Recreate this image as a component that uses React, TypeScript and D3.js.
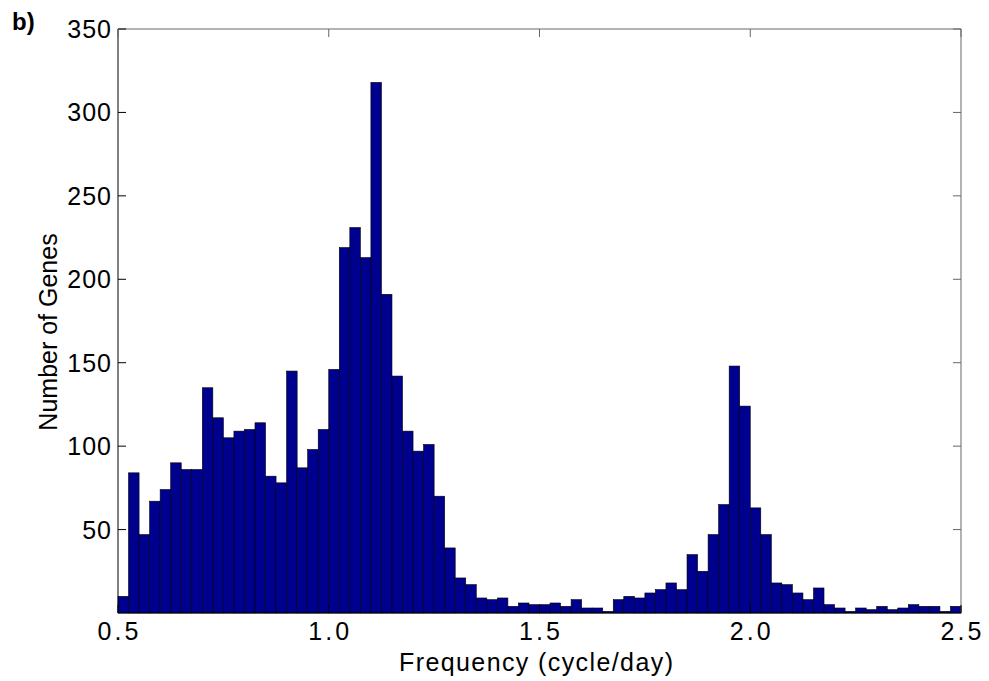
import React from "react";
import * as d3 from "d3";

// Histogram: bins of width 0.025 starting at 0.5 (cycle/day)
const binStart = 0.5;
const binWidth = 0.025;
const counts: number[] = [
  10, 84, 47, 67, 74, 90, 86, 86, 135, 117,
  105, 109, 110, 114, 82, 78, 145, 87, 98, 110,
  146, 219, 231, 213, 318, 191, 142, 109, 97, 101,
  70, 39, 21, 17, 9, 8, 9, 4, 6, 5,
  5, 6, 4, 8, 3, 3, 1, 8, 10, 9,
  12, 14, 18, 14, 35, 25, 47, 65, 148, 124,
  63, 47, 18, 17, 12, 8, 15, 5, 3, 1,
  3, 2, 4, 2, 3, 5, 4, 4, 1, 4,
];
const xTicks: number[] = [0.5, 1.0, 1.5, 2.0, 2.5];
const yTicks: number[] = [50, 100, 150, 200, 250, 300, 350];
const xLabel = "Frequency (cycle/day)";
const yLabel = "Number of Genes";
const panelLabel = "b)";

const W = 989;
const H = 681;
const left = 118;
const right = 961;
const top = 29;
const bottom = 613;
const FONT = "'Liberation Sans', Arial, Helvetica, sans-serif";

export default function App() {
  const x = d3.scaleLinear().domain([0.5, 2.5]).range([left, right]);
  const y = d3.scaleLinear().domain([0, 350]).range([bottom, top]);
  const bins = counts.map((c, i) => ({
    x0: binStart + i * binWidth,
    x1: binStart + (i + 1) * binWidth,
    c,
  }));
  const tickLen = 8;
  return (
    <svg
      width={W}
      height={H}
      style={{ position: "absolute", left: 0, top: 0, background: "#fff" }}
      fontFamily={FONT}
    >
      <rect x={0} y={0} width={W} height={H} fill="#fff" />
      {/* bars */}
      {bins.map((b, i) => (
        <rect
          key={i}
          x={x(b.x0)}
          y={y(b.c)}
          width={x(b.x1) - x(b.x0)}
          height={y(0) - y(b.c)}
          fill="#00008F"
          stroke="#000"
          strokeWidth={0.6}
        />
      ))}
      {/* box */}
      <line x1={left} x2={right} y1={top} y2={top} stroke="#666" strokeWidth={1} />
      <line x1={right} x2={right} y1={top} y2={bottom} stroke="#666" strokeWidth={1} />
      <line x1={left} x2={left} y1={top} y2={bottom} stroke="#000" strokeWidth={1} />
      <line x1={left} x2={right} y1={bottom} y2={bottom} stroke="#000" strokeWidth={1} />
      {/* y ticks */}
      {yTicks.map((t) => (
        <g key={"y" + t}>
          <line x1={left} x2={left + tickLen} y1={y(t)} y2={y(t)} stroke="#000" strokeWidth={1} />
          <line x1={right} x2={right - tickLen} y1={y(t)} y2={y(t)} stroke="#666" strokeWidth={1} />
          <text
            x={left - 6}
            y={y(t)}
            dy="0.36em"
            textAnchor="end"
            fontSize={25}
            letterSpacing={1}
            fill="#000"
          >
            {String(t)}
          </text>
        </g>
      ))}
      {/* x ticks */}
      {xTicks.map((t) => (
        <g key={"x" + t}>
          <line x1={x(t)} x2={x(t)} y1={bottom} y2={bottom - tickLen} stroke="#000" strokeWidth={1} />
          <line x1={x(t)} x2={x(t)} y1={top} y2={top + tickLen} stroke="#666" strokeWidth={1} />
          <text
            x={x(t) + 1.5}
            y={640}
            textAnchor="middle"
            fontSize={25}
            letterSpacing={3}
            fill="#000"
          >
            {t.toFixed(1)}
          </text>
        </g>
      ))}
      {/* axis labels */}
      <text
        x={536 + 0.7}
        y={671}
        textAnchor="middle"
        fontSize={25}
        letterSpacing={1.4}
        fill="#000"
      >
        {xLabel}
      </text>
      <text
        transform={`translate(57, ${332}) rotate(-90)`}
        textAnchor="middle"
        fontSize={25}
        fill="#000"
      >
        {yLabel}
      </text>
      <text x={12} y={30} fontSize={24} fontWeight="bold" fill="#000">
        {panelLabel}
      </text>
    </svg>
  );
}
